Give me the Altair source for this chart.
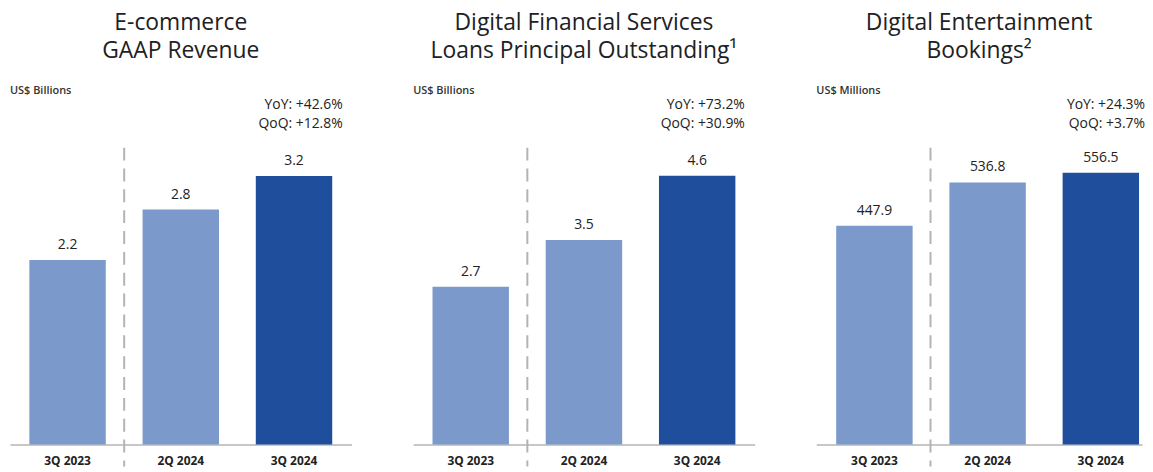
import altair as alt
import pandas as pd

quarters = ["3Q 2023", "2Q 2024", "3Q 2024"]

ecom_values = [2.2, 2.8, 3.2]
dfs_values = [2.7, 3.5, 4.6]
ent_values = [447.9, 536.8, 556.5]

titles = [
    ["E-commerce", "GAAP Revenue"],
    ["Digital Financial Services", "Loans Principal Outstanding\u00b9"],
    ["Digital Entertainment", "Bookings\u00b2"],
]
units = ["US$ Billions", "US$ Billions", "US$ Millions"]
growth = [
    "YoY: +42.6%\nQoQ: +12.8%",
    "YoY: +73.2%\nQoQ: +30.9%",
    "YoY: +24.3%\nQoQ: +3.7%",
]

LIGHT = "#7b9acb"
DARK = "#1f4f9c"
FONT = "Open Sans"
H = 300


def panel(title, unit, values, note, ymax, w, pad_outer, align, note_x):
    df = pd.DataFrame({"quarter": quarters, "value": values})
    xs = alt.X(
        "quarter:N",
        sort=quarters,
        scale=alt.Scale(paddingInner=0.325, paddingOuter=pad_outer, align=align),
        axis=alt.Axis(title=None),
    )
    ys = alt.Y("value:Q", scale=alt.Scale(domain=[0, ymax]), axis=None)
    base = alt.Chart(df)
    bars = base.mark_bar().encode(
        x=xs,
        y=ys,
        color=alt.condition(
            alt.datum.quarter == "3Q 2024", alt.value(DARK), alt.value(LIGHT)
        ),
    )
    labels = base.mark_text(
        baseline="alphabetic", dy=-11, fontSize=14, font=FONT, color="#222222"
    ).encode(x=xs, y=ys, text=alt.Text("value:Q", format=".1f"))
    one = pd.DataFrame({"t": [unit], "n": [note]})
    rule = alt.Chart(one).mark_rule(
        color="#b3b3b3", strokeWidth=2, strokeDash=[13, 8]
    ).encode(x=alt.value(115), y=alt.value(1), y2=alt.value(H + 22))
    unit_t = alt.Chart(one).mark_text(
        align="left", baseline="middle", fontSize=11, fontWeight=600,
        font=FONT, color="#333333"
    ).encode(x=alt.value(0), y=alt.value(-56), text="t:N")
    note_t = alt.Chart(one).mark_text(
        align="right", baseline="middle", fontSize=14, font=FONT,
        color="#222222", lineBreak="\n", lineHeight=19
    ).encode(x=alt.value(note_x), y=alt.value(-42), text="n:N")
    return alt.layer(rule, bars, labels, unit_t, note_t).properties(
        width=w,
        height=H,
        title=alt.TitleParams(
            title, fontSize=23, font=FONT, fontWeight="normal",
            color="#202124", lineHeight=28, anchor="middle", offset=22,
        ),
    )


p1 = panel(titles[0], units[0], ecom_values, growth[0], 3.55, 344, 0.171, 0.5, 335)
p2 = panel(titles[1], units[1], dfs_values, growth[1], 5.10, 344, 0.171, 0.5, 334)
p3 = panel(titles[2], units[2], ent_values, growth[2], 610, 328, 0.101, 0.87, 331)

chart = alt.hconcat(p1, p2, p3, spacing=62).properties(
    padding={"left": 2, "top": 3, "right": 0, "bottom": 0}
).configure_view(stroke=None).configure_axis(
    domainColor="#b5b5b5",
    domainWidth=1.5,
    ticks=False,
    grid=False,
    labelFont=FONT,
    labelFontWeight="bold",
    labelFontSize=12,
    labelColor="#222222",
    labelPadding=11,
    labelAngle=0,
)

chart.save("out.html", embed_options={"renderer": "svg", "actions": False})
